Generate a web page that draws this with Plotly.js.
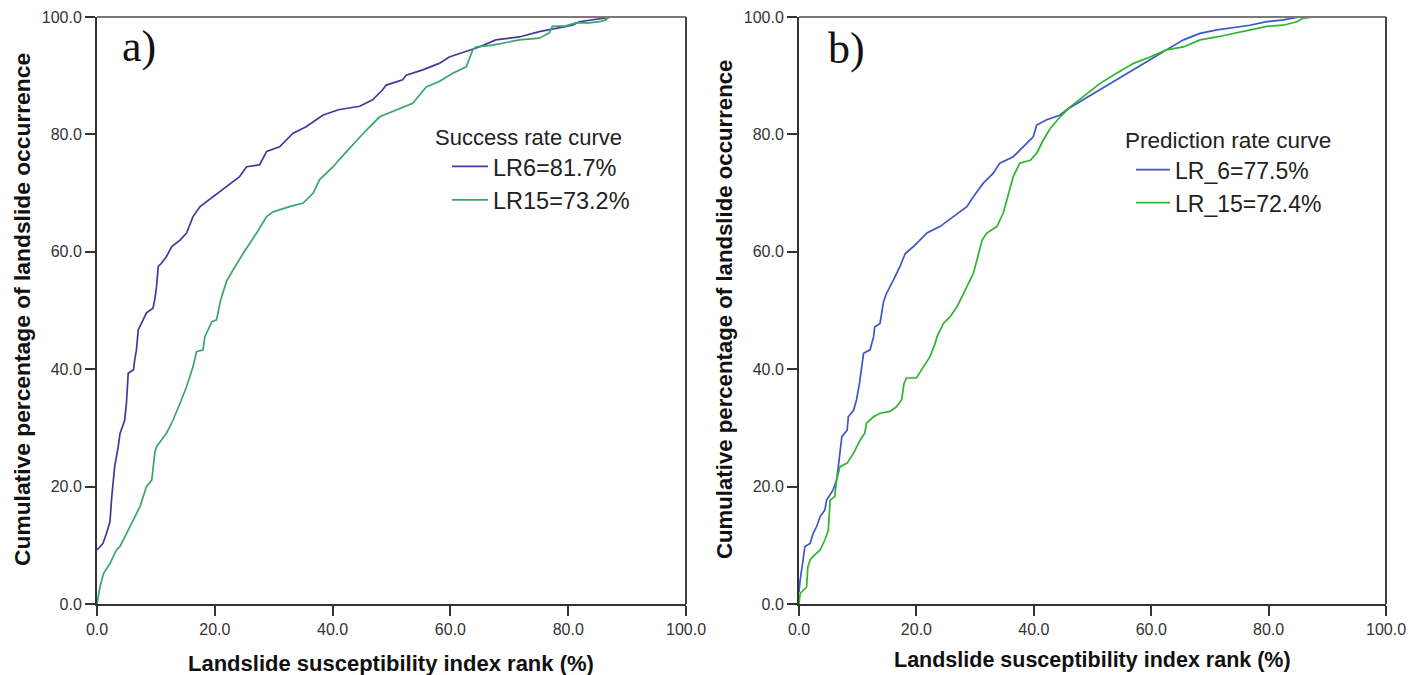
<!DOCTYPE html>
<html>
<head>
<meta charset="utf-8">
<script src="https://cdn.plot.ly/plotly-3.0.1.min.js"></script>
<style>html,body{margin:0;padding:0;background:#fff;}#chart{width:1419px;height:675px;}</style>
</head>
<body>
<div id="chart"></div>
<script>
// Panel a) success rate curves
const lr6SuccessX = [0,1.0,1.6,2.2,2.5,3.0,3.6,3.9,4.7,5.0,5.3,6.2,6.4,6.7,7.0,7.8,8.4,9.5,9.8,10.1,10.4,10.9,11.8,12.7,14.1,15.2,16.3,17.5,19.7,22.0,24.2,25.4,27.6,28.8,31.0,33.3,35.5,38.4,41.0,44.6,46.8,48.5,49.1,51.9,52.5,55.3,58.1,59.8,62.7,64.9,67.7,71.7,75.1,77.9,80.7,81.9,84.1,86.9,87.5,100];
const lr6SuccessY = [9.2,10.3,12.0,14.0,18.2,23.4,26.8,29.0,31.3,34.2,39.3,39.9,41.6,43.3,46.7,48.4,49.6,50.4,51.8,54.0,57.5,58.0,59.2,60.9,62.0,63.2,66.0,67.7,69.4,71.1,72.8,74.5,74.8,77.1,77.9,80.2,81.3,83.3,84.2,84.8,85.9,87.6,88.4,89.3,90.1,91.0,92.1,93.2,94.1,94.9,96.1,96.6,97.5,98.1,98.6,99.2,99.5,99.8,100,100];
const lr15SuccessX = [0,0.5,1.1,2.2,3.3,3.9,5.0,6.2,7.3,8.4,9.3,9.8,10.1,11.8,12.9,14.1,15.2,16.3,16.9,18.0,18.3,19.5,20.3,21.0,22.0,23.1,24.8,27.1,28.8,29.9,32.7,35.0,36.7,37.8,40.1,41.2,43.2,45.7,48.0,50.8,53.6,55.9,58.1,60.4,62.7,63.8,64.4,67.2,71.7,75.1,76.8,77.3,79.6,81.3,83.6,85.3,86.4,86.9,100];
const lr15SuccessY = [0,2.9,5.2,6.9,9.2,9.8,12.0,14.3,16.6,20.0,21.1,25.7,26.8,29.1,31.3,34.2,37.0,40.4,43.0,43.3,45.5,48.1,48.4,51.8,55.0,56.9,59.7,63.2,66.0,66.8,67.7,68.3,70.0,72.3,74.5,75.8,78.0,80.7,83.0,84.2,85.3,88.1,89.0,90.4,91.5,94.4,94.9,95.2,96.1,96.4,97.3,98.4,98.5,99.0,99.0,99.2,99.5,100,100];

// Panel b) prediction rate curves
const lr6PredX = [0,0.2,0.7,1.0,1.9,2.4,3.0,3.6,4.4,4.7,5.8,6.4,6.7,7.0,7.3,8.2,8.4,9.3,9.8,10.3,10.7,11.0,12.1,12.7,12.9,13.8,14.4,14.9,16.1,17.2,18.1,19.5,21.8,24.0,26.3,28.6,29.7,31.4,33.1,34.2,36.5,38.2,39.9,40.5,42.2,44.5,45.6,48.4,51.3,54.1,57.0,59.8,62.6,65.5,68.3,71.2,76.8,79.7,82.5,85.3,100];
const lr6PredY = [2.0,4.1,7.5,9.8,10.3,12.0,13.2,14.9,16.0,17.7,19.4,21.1,23.4,25.7,28.5,29.6,31.9,33.0,34.8,37.6,41.0,42.7,43.3,45.5,47.2,47.8,51.5,52.9,55.2,57.5,59.7,60.9,63.2,64.3,66.0,67.7,69.4,71.7,73.4,75.1,76.2,77.9,79.6,81.6,82.5,83.3,84.2,85.9,87.6,89.3,91.0,92.7,94.4,96.1,97.2,97.8,98.6,99.2,99.5,100,100];
const lr15PredX = [0,0.2,1.3,1.5,1.9,2.4,3.6,4.4,5.0,5.3,6.1,6.4,7.0,8.2,9.3,10.4,11.2,11.5,12.7,13.8,15.5,16.6,17.5,17.9,18.3,20.0,21.2,22.3,23.2,23.5,24.6,25.7,26.9,28.0,29.7,30.6,31.2,32.0,33.7,34.8,35.4,36.5,37.6,39.4,40.5,41.6,42.8,44.5,46.2,48.4,51.3,54.1,57.0,59.8,62.6,65.5,68.3,71.2,74.0,76.8,79.7,82.5,84.8,85.9,88.0,100];
const lr15PredY = [0,1.8,2.9,6.3,7.5,8.1,9.2,10.9,12.6,17.7,18.3,21.1,23.4,24.0,25.7,27.9,29.1,30.8,31.9,32.5,32.8,33.6,34.8,37.6,38.5,38.5,40.4,42.1,44.4,45.5,47.8,48.9,50.6,52.9,56.3,59.7,62.0,63.2,64.3,66.6,68.8,72.8,75.1,75.6,76.8,79.0,81.0,83.0,84.7,86.4,88.7,90.4,92.1,93.2,94.4,94.9,96.1,96.6,97.2,97.8,98.4,98.6,99.2,99.8,100,100];

const seriesNames = ['LR6=81.7%','LR15=73.2%','LR_6=77.5%','LR_15=72.4%'];
const legendTitles = ['Success rate curve','Prediction rate curve'];
const panelLabels = ['a)','b)'];
const xTitle = 'Landslide susceptibility index rank (%)';
const yTitle = 'Cumulative percentage of landslide occurrence';
const tickVals = [0,20,40,60,80,100];

const traces = [
  {x: lr6SuccessX, y: lr6SuccessY, name: seriesNames[0], xaxis:'x', yaxis:'y', legend:'legend',
   mode:'lines', line:{color:'#3f3a9e', width:1.7}},
  {x: lr15SuccessX, y: lr15SuccessY, name: seriesNames[1], xaxis:'x', yaxis:'y', legend:'legend',
   mode:'lines', line:{color:'#3aa56c', width:1.7}},
  {x: lr6PredX, y: lr6PredY, name: seriesNames[2], xaxis:'x2', yaxis:'y2', legend:'legend2',
   mode:'lines', line:{color:'#3b58c4', width:1.7}},
  {x: lr15PredX, y: lr15PredY, name: seriesNames[3], xaxis:'x2', yaxis:'y2', legend:'legend2',
   mode:'lines', line:{color:'#2fb430', width:1.7}}
];

const W = 1419, H = 675;
const tickFont = {family:'Liberation Sans, Arial, sans-serif', size:16, color:'#333'};
function axisBase(domain, anchor){
  return {domain: domain, anchor: anchor, range:[0,100], tickvals: tickVals, tickformat:'.1f',
    showgrid:false, zeroline:false, showline:true, linecolor:'#333', linewidth:2,
    ticks:'outside', ticklen:10, tickwidth:2, tickcolor:'#333', tickfont: tickFont, fixedrange:true};
}
const yDom = [1-604/H, 1-17/H];

const layout = {
  width: W, height: H, margin:{l:0,r:0,t:0,b:0}, paper_bgcolor:'#fff', plot_bgcolor:'#fff',
  showlegend: true,
  xaxis: axisBase([97/W, 686/W], 'y'),
  yaxis: axisBase(yDom, 'x'),
  xaxis2: axisBase([799/W, 1386/W], 'y2'),
  yaxis2: axisBase(yDom, 'x2'),
  legend: {x: 433/W, xanchor:'left', y: 1-116/H, yanchor:'top', bgcolor:'rgba(0,0,0,0)', borderwidth:0,
    font:{family:'Liberation Sans, Arial, sans-serif', size:23.5, color:'#222'},
    title:{text: legendTitles[0], font:{family:'Liberation Sans, Arial, sans-serif', size:22, color:'#222'}},
    indentation: 14, tracegroupgap:0, itemwidth:36},
  legend2: {x: 1123/W, xanchor:'left', y: 1-119/H, yanchor:'top', bgcolor:'rgba(0,0,0,0)', borderwidth:0,
    font:{family:'Liberation Sans, Arial, sans-serif', size:23, color:'#222'},
    title:{text: legendTitles[1], font:{family:'Liberation Sans, Arial, sans-serif', size:22.5, color:'#222'}},
    indentation: 8, tracegroupgap:0, itemwidth:34},
  shapes: [
    {type:'line', xref:'x domain', yref:'y domain', x0:0, x1:1, y0:1, y1:1, line:{color:'#7a7a7a', width:2}},
    {type:'line', xref:'x domain', yref:'y domain', x0:1, x1:1, y0:0, y1:1, line:{color:'#444', width:2}},
    {type:'line', xref:'x2 domain', yref:'y2 domain', x0:0, x1:1, y0:1, y1:1, line:{color:'#7a7a7a', width:2}},
    {type:'line', xref:'x2 domain', yref:'y2 domain', x0:1, x1:1, y0:0, y1:1, line:{color:'#444', width:2}}
  ],
  annotations: [
    {text: panelLabels[0], xref:'paper', yref:'paper', x:120/W, y:1-47/H, xanchor:'left', yanchor:'middle', showarrow:false,
     font:{family:'Liberation Serif, Times New Roman, serif', size:44, color:'#111'}},
    {text: panelLabels[1], xref:'paper', yref:'paper', x:826/W, y:1-49/H, xanchor:'left', yanchor:'middle', showarrow:false,
     font:{family:'Liberation Serif, Times New Roman, serif', size:44, color:'#111'}},
    {text: '<b>'+xTitle+'</b>', xref:'paper', yref:'paper', x:391/W, y:1-663/H, xanchor:'center', yanchor:'middle', showarrow:false,
     font:{family:'Liberation Sans, Arial, sans-serif', size:22, color:'#111'}},
    {text: '<b>'+xTitle+'</b>', xref:'paper', yref:'paper', x:1092/W, y:1-660/H, xanchor:'center', yanchor:'middle', showarrow:false,
     font:{family:'Liberation Sans, Arial, sans-serif', size:21.5, color:'#111'}},
    {text: '<b>'+yTitle+'</b>', xref:'paper', yref:'paper', x:22/W, y:1-310/H, xanchor:'center', yanchor:'middle', showarrow:false, textangle:-90,
     font:{family:'Liberation Sans, Arial, sans-serif', size:22.8, color:'#111'}},
    {text: '<b>'+yTitle+'</b>', xref:'paper', yref:'paper', x:724/W, y:1-310/H, xanchor:'center', yanchor:'middle', showarrow:false, textangle:-90,
     font:{family:'Liberation Sans, Arial, sans-serif', size:22.2, color:'#111'}}
  ]
};

Plotly.newPlot('chart', traces, layout, {displayModeBar:false, staticPlot:true});
</script>
</body>
</html>
